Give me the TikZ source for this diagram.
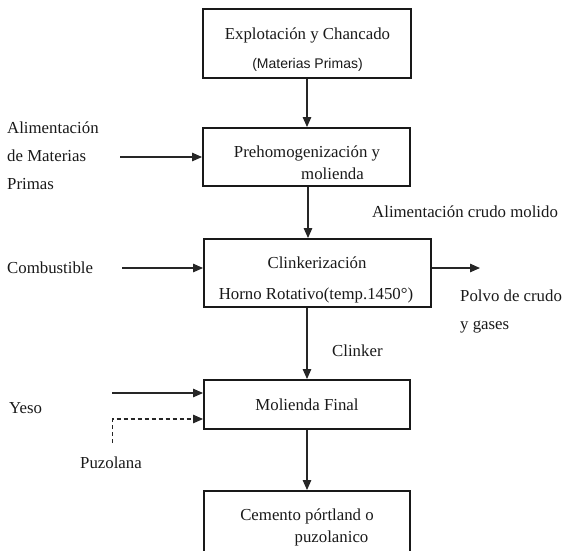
\documentclass[tikz,border=0pt]{standalone}
\usepackage{fontspec}
\setmainfont{Liberation Serif}
\newfontfamily\arialf{Liberation Sans}
\usetikzlibrary{arrows.meta}

\begin{document}
\begin{tikzpicture}[x=1pt,y=-1pt,
  box/.style={draw=black!90, line width=1.9pt, inner sep=0pt},
  txt/.style={font=\fontsize{16.8}{20}\selectfont, text=black!90, inner sep=0pt, anchor=base},
  lbl/.style={txt, anchor=base west},
  arr/.style={-{Triangle[length=10pt,width=8.5pt]}, line width=1.3pt, draw=black!85},
  dsh/.style={dash pattern=on 4pt off 3pt}]
\useasboundingbox (0,0) rectangle (565,550);
\clip (0,0) rectangle (565,550);

% process boxes
\node[box, minimum width=208pt, minimum height=69pt] (b1) at (307,43.5) {};
\node[box, minimum width=207pt, minimum height=58pt] (b2) at (306.5,157) {};
\node[box, minimum width=227pt, minimum height=68pt] (b3) at (317.5,273) {};
\node[box, minimum width=206pt, minimum height=49pt] (b4) at (307,404.5) {};
\node[box, minimum width=206pt, minimum height=68pt] (b5) at (307,525) {};

% box texts
\node[txt] (t1a) at (307.5,39.3) {Explotación y Chancado};
\node[txt, font=\arialf\fontsize{14}{17}\selectfont] (t1b) at (307.5,68.3) {(Materias Primas)};
\node[txt] (t2a) at (307,157.3) {Prehomogenización y};
\node[txt] (t2b) at (332.5,179) {molienda};
\node[txt] (t3a) at (317,268.3) {Clinkerización};
\node[txt] (t3b) at (316,299) {Horno Rotativo(temp.1450°)};
\node[txt] (t4) at (307,410) {Molienda Final};
\node[txt] (t5a) at (307,520) {Cemento pórtland o};
\node[txt] (t5b) at (331.5,542.7) {puzolanico};

% side labels
\node[lbl] (alim1) at (7,133.3) {Alimentación};
\node[lbl] (alim2) at (7,161) {de Materias};
\node[lbl] (alim3) at (7,189) {Primas};
\node[lbl] (comb) at (7,273.3) {Combustible};
\node[lbl] (yeso) at (9,413) {Yeso};
\node[lbl] (puz) at (80,468) {Puzolana};
\node[lbl] (clk) at (332,356) {Clinker};
\node[lbl] (crudo) at (372,217.7) {Alimentación crudo molido};
\node[lbl] (polvo1) at (460,301.7) {Polvo de crudo};
\node[lbl] (polvo2) at (460,329.5) {y gases};

% main flow
\draw[arr] (b1.south) -- (b1.south |- b2.north);
\coordinate (feedTop) at (308,186);
\draw[arr] (feedTop |- b2.south) -- (feedTop |- b3.north);
\draw[arr] (b4.north |- b3.south) -- (b4.north);
\draw[arr] (b4.south) -- (b5.north);

% side inputs and output
\coordinate (alimIn) at (120,157);
\draw[arr] (alimIn) -- (alimIn -| b2.west);
\coordinate (combIn) at (122,268);
\draw[arr] (combIn) -- (combIn -| b3.west);
\coordinate (polvoOut) at (480,268);
\draw[arr] (polvoOut -| b3.east) -- (polvoOut);
\coordinate (yesoIn) at (112,393);
\draw[arr] (yesoIn) -- (yesoIn -| b4.west);
\coordinate (puzIn) at (112.5,443);
\coordinate (puzBend) at (112.5,419);
\draw[arr, dsh] (puzIn) -- (puzBend) -- (puzBend -| b4.west);
\end{tikzpicture}
\end{document}
